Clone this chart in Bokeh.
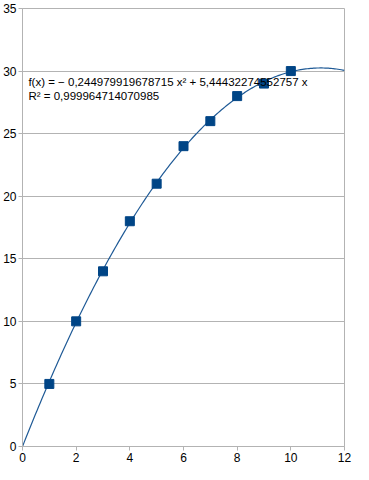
import numpy as np
from bokeh.plotting import figure
from bokeh.models import Range1d, FixedTicker, Label
from bokeh.embed import file_html
from bokeh.resources import INLINE

x_vals = [1, 2, 3, 4, 5, 6, 7, 8, 9, 10]
y_vals = [5, 10, 14, 18, 21, 24, 26, 28, 29, 30]
coef_a = -0.244979919678715
coef_b = 5.44432274552757
eq_text = "f(x) = \u2212 0,244979919678715 x\u00b2 + 5,44432274552757 x"
r2_text = "R\u00b2 = 0,999964714070985"
x_ticks = [0, 2, 4, 6, 8, 10, 12]
y_ticks = [0, 5, 10, 15, 20, 25, 30, 35]

p = figure(width=353, height=464, output_backend="svg", toolbar_location=None,
           x_range=Range1d(0, 12), y_range=Range1d(0, 35),
           min_border_left=17, min_border_right=9, min_border_top=8, min_border_bottom=18)
p.background_fill_color = "white"
p.border_fill_color = "white"
p.outline_line_color = "#b3b3b3"
p.outline_line_width = 1

p.xgrid.visible = False
p.ygrid.grid_line_color = "#b3b3b3"
p.ygrid.ticker = FixedTicker(ticks=y_ticks)

for ax in (p.xaxis[0], p.yaxis[0]):
    ax.axis_line_color = "#b3b3b3"
    ax.major_tick_line_color = "#b3b3b3"
    ax.major_tick_out = 4
    ax.major_tick_in = 0
    ax.minor_tick_line_color = None
    ax.major_label_text_font = "Liberation Sans"
    ax.major_label_text_font_size = "12px"
    ax.major_label_text_color = "#000000"
p.xaxis.ticker = FixedTicker(ticks=x_ticks)
p.yaxis.ticker = FixedTicker(ticks=y_ticks)
p.xaxis.major_label_standoff = 2
p.yaxis.major_label_standoff = 2

xs = np.linspace(0, 12, 200)
ys = coef_a * xs**2 + coef_b * xs
p.line(xs, ys, line_color="#1f5a96", line_width=1.2)

p.scatter(x_vals, y_vals, marker="square", size=9, fill_color="#004586", line_color="#004586")

p.add_layout(Label(x=0.22, y=29.6, text=eq_text, text_font="Liberation Sans", text_font_size="11.5px",
                   text_color="#000000", text_baseline="top"))
p.add_layout(Label(x=0.22, y=28.5, text=r2_text, text_font="Liberation Sans", text_font_size="11.5px",
                   text_color="#000000", text_baseline="top"))

open("out.html", "w").write(file_html(p, INLINE))
